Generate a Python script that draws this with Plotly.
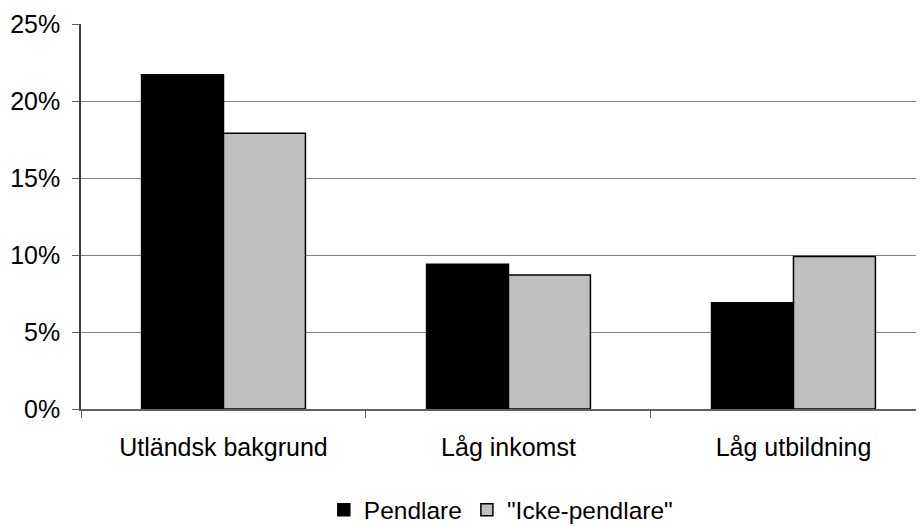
import plotly.graph_objects as go

categories = ["Utländsk bakgrund", "Låg inkomst", "Låg utbildning"]
pendlare = [0.217, 0.094, 0.069]
icke_pendlare = [0.179, 0.087, 0.099]
y_ticks = [0, 0.05, 0.10, 0.15, 0.20, 0.25]
y_tick_labels = ["0%", "5%", "10%", "15%", "20%", "25%"]

font = dict(family="Liberation Sans, Arial, sans-serif", size=25, color="black")
legend_font = dict(family="Liberation Sans, Arial, sans-serif", size=24.5, color="black")

fig = go.Figure()
fig.add_trace(go.Bar(x=categories, y=pendlare, name="Pendlare",
                     marker=dict(color="black", line=dict(color="black", width=1.5))))
fig.add_trace(go.Bar(x=categories, y=icke_pendlare, name='"Icke-pendlare"',
                     marker=dict(color="#C0C0C0", line=dict(color="black", width=1.5))))

fig.update_layout(
    width=916, height=518,
    margin=dict(l=73, r=0, t=16, b=117, autoexpand=False),
    paper_bgcolor="white", plot_bgcolor="white",
    font=font,
    barmode="group", bargap=0.425, bargroupgap=0,
    showlegend=True,
    legend=dict(orientation="h", x=0.498, xanchor="center", y=-0.262, yanchor="middle",
                font=legend_font, itemwidth=30, traceorder="normal"),
    xaxis=dict(range=[-0.5, 2.458], showline=True, linecolor="#606060", linewidth=1.5,
               ticks="outside", tickson="boundaries", ticklen=7, tickcolor="#606060",
               tickfont=font, showgrid=False, zeroline=False, automargin=False,
               ticklabelstandoff=15),
    yaxis=dict(range=[0, 0.25], tickvals=y_ticks, ticktext=y_tick_labels,
               showline=True, linecolor="#404040", linewidth=1.5,
               ticks="outside", ticklen=7, tickcolor="#606060",
               showgrid=True, gridcolor="#808080", gridwidth=1.2,
               zeroline=False, tickfont=font, automargin=False,
               ticklabelstandoff=7),
)

fig.write_html("out.html")
